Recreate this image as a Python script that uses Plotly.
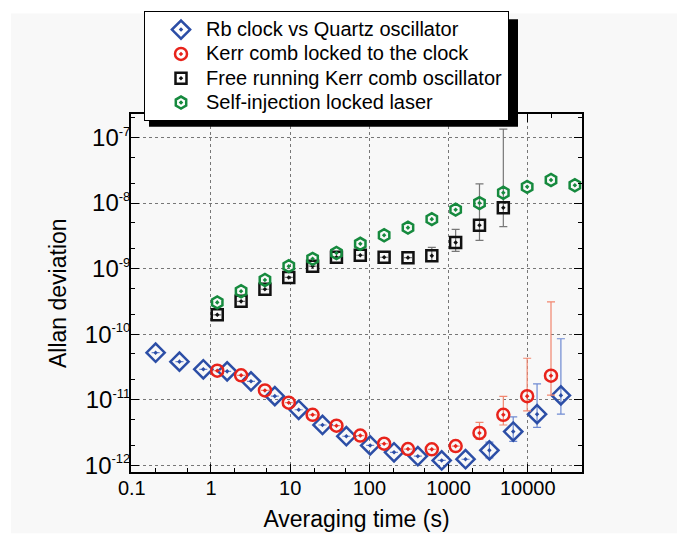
import math
import plotly.graph_objects as go

nan = float("nan")

# Rb clock vs Quartz oscillator
rb_tau = [0.2, 0.4, 0.8, 1.6, 3.2, 6.4, 12.8, 25.6, 51.2, 102.4, 204.8, 409.6,
          819.2, 1638.4, 3276.8, 6553.6, 13107.2, 26214.4]
rb_adev = [5.2e-11, 3.8e-11, 2.9e-11, 2.7e-11, 1.9e-11, 1.13e-11, 7.0e-12, 4.1e-12,
           2.76e-12, 2.0e-12, 1.57e-12, 1.37e-12, 1.18e-12, 1.23e-12, 1.68e-12,
           3.25e-12, 6.0e-12, 1.16e-11]
rb_hi = [nan] * 14 + [2.24e-12, 5.47e-12, 1.74e-11, 8.5e-11]
rb_lo = [nan] * 14 + [1.29e-12, 2.3e-12, 3.78e-12, 6.0e-12]

# Kerr comb locked to the clock
kc_tau = [1.2, 2.4, 4.8, 9.6, 19.2, 38.4, 76.8, 153.6, 307.2, 614.4, 1228.8,
          2457.6, 4915.2, 9830.4, 19660.8]
kc_adev = [2.76e-11, 2.35e-11, 1.38e-11, 8.97e-12, 5.86e-12, 4.0e-12, 2.83e-12,
           2.12e-12, 1.76e-12, 1.74e-12, 1.95e-12, 3.1e-12, 5.86e-12, 1.13e-11, 2.32e-11]
kc_hi = [nan] * 11 + [4.49e-12, 1.12e-11, 4.28e-11, 3.1e-10]
kc_lo = [nan] * 11 + [2.47e-12, 4.1e-12, 6.73e-12, 1.17e-11]

# Free running Kerr comb oscillator
fr_tau = [1.2, 2.4, 4.8, 9.6, 19.2, 38.4, 76.8, 153.6, 307.2, 614.4, 1228.8,
          2457.6, 4915.2]
fr_adev = [1.97e-10, 3.16e-10, 4.84e-10, 7.34e-10, 1.09e-9, 1.49e-9, 1.6e-9,
           1.49e-9, 1.47e-9, 1.57e-9, 2.5e-9, 4.6e-9, 8.5e-9]
fr_hi = [nan] * 9 + [2.11e-9, 3.98e-9, 1.96e-8, 1.35e-7]
fr_lo = [nan] * 9 + [1.3e-9, 1.83e-9, 2.69e-9, 4.37e-9]

# Self-injection locked laser
sil_tau = [1.2, 2.4, 4.8, 9.6, 19.2, 38.4, 76.8, 153.6, 307.2, 614.4, 1228.8,
           2457.6, 4915.2, 9830.4, 19660.8, 39321.6]
sil_adev = [3.05e-10, 4.52e-10, 6.71e-10, 1.09e-9, 1.41e-9, 1.73e-9, 2.39e-9,
            3.23e-9, 4.22e-9, 5.69e-9, 7.94e-9, 1.0e-8, 1.44e-8, 1.77e-8, 2.25e-8, 1.87e-8]

x_tickvals = [0.1, 1, 10, 100, 1000, 10000]
x_ticktext = ["0.1", "1", "10", "100", "1000", "10000"]
y_tickvals = [1e-12, 1e-11, 1e-10, 1e-9, 1e-8, 1e-7]
y_ticktext = ["10<sup><span style='font-size:13px'>-12</span></sup>",
              "10<sup><span style='font-size:13px'>-11</span></sup>",
              "10<sup><span style='font-size:13px'>-10</span></sup>",
              "10<sup><span style='font-size:13px'>-9</span></sup>",
              "10<sup><span style='font-size:13px'>-8</span></sup>",
              "10<sup><span style='font-size:13px'>-7</span></sup>"]


def errs(y, hi, lo):
    plus = [h - v if not math.isnan(h) else nan for v, h in zip(y, hi)]
    minus = [v - l if not math.isnan(l) else nan for v, l in zip(y, lo)]
    return plus, minus


FONT = "Arial, Liberation Sans, sans-serif"
fig = go.Figure()

series = [
    ("Rb clock vs Quartz oscillator", rb_tau, rb_adev, rb_hi, rb_lo,
     "diamond-open-dot", 14, "#2c4ea6", "#6f8ad2"),
    ("Kerr comb locked to the clock", kc_tau, kc_adev, kc_hi, kc_lo,
     "circle-open-dot", 12, "#e8231b", "#f2866f"),
    ("Free running Kerr comb oscillator", fr_tau, fr_adev, fr_hi, fr_lo,
     "square-open-dot", 11, "#111111", "#777777"),
    ("Self-injection locked laser", sil_tau, sil_adev, None, None,
     "hexagon-open-dot", 12, "#168a3e", "#168a3e"),
]

for name, x, y, hi, lo, sym, size, col, ecol in series:
    kw = {}
    if hi is not None:
        plus, minus = errs(y, hi, lo)
        kw["error_y"] = dict(type="data", array=plus, arrayminus=minus,
                             symmetric=False, color=ecol, thickness=1.2, width=4)
    fig.add_trace(go.Scatter(
        x=x, y=y, name="<span style='font-size:20px'>" + name + "</span>",
        mode="markers",
        marker=dict(symbol=sym, size=size, color=col,
                    line=dict(color=col, width=2.5)),
        **kw))

# plot area in pixels: x 131..582, y 109..472
def px(xp):
    return (xp - 131) / 451.0

def py(yp):
    return (472 - yp) / 363.0

shapes = [
    dict(type="rect", xref="paper", yref="paper", x0=px(0), x1=px(677), y0=py(534), y1=py(0),
         fillcolor="white", line=dict(width=0), layer="below"),
    dict(type="rect", xref="paper", yref="paper", x0=px(11), x1=px(677), y0=py(534), y1=py(7),
         fillcolor="#f8f8f8", line=dict(width=0), layer="below"),
    dict(type="rect", xref="paper", yref="paper", x0=px(149), x1=px(518), y0=py(122), y1=py(13),
         fillcolor="black", line=dict(width=0), layer="above"),
]

axis_common = dict(
    type="log", showline=True, linecolor="black", linewidth=1.8, mirror="allticks",
    ticks="inside", ticklen=8, tickwidth=1.2, tickcolor="black",
    showgrid=True, gridcolor="#777777", griddash="dot", gridwidth=1,
    zeroline=False, automargin=False,
    minor=dict(ticks="inside", ticklen=4, tickwidth=1, tickcolor="black", showgrid=False),
)

fig.update_layout(
    width=677, height=534,
    margin=dict(l=131, r=95, t=109, b=62),
    paper_bgcolor="white", plot_bgcolor="#f8f8f8",
    font=dict(family=FONT, color="black"),
    shapes=shapes,
    showlegend=True,
    legend=dict(x=px(144), y=py(5), xanchor="left", yanchor="top",
                bgcolor="white", bordercolor="black", borderwidth=1,
                font=dict(size=16.4, family=FONT), indentation=11, itemwidth=40,
                tracegroupgap=0, itemsizing="trace"),
    xaxis=dict(axis_common, range=[-1.01, 4.685], tickvals=x_tickvals, ticktext=x_ticktext,
               tickfont=dict(size=20),
               title=dict(text="Averaging time (s)", font=dict(size=23), standoff=13)),
    yaxis=dict(axis_common, range=[-12.105, -6.64], tickvals=y_tickvals, ticktext=y_ticktext,
               tickfont=dict(size=24)),
    annotations=[dict(text="Allan deviation", xref="paper", yref="paper",
                      x=px(58), y=0.5, xanchor="center", yanchor="middle",
                      textangle=-90, showarrow=False, font=dict(size=23))],
)

try:
    fig.update_yaxes(ticklabelstandoff=-6)
    fig.update_xaxes(ticklabelstandoff=-3)
except Exception:
    pass

fig.write_html("out.html", config={"displayModeBar": False},
               post_script="document.body.style.margin='0px';")
